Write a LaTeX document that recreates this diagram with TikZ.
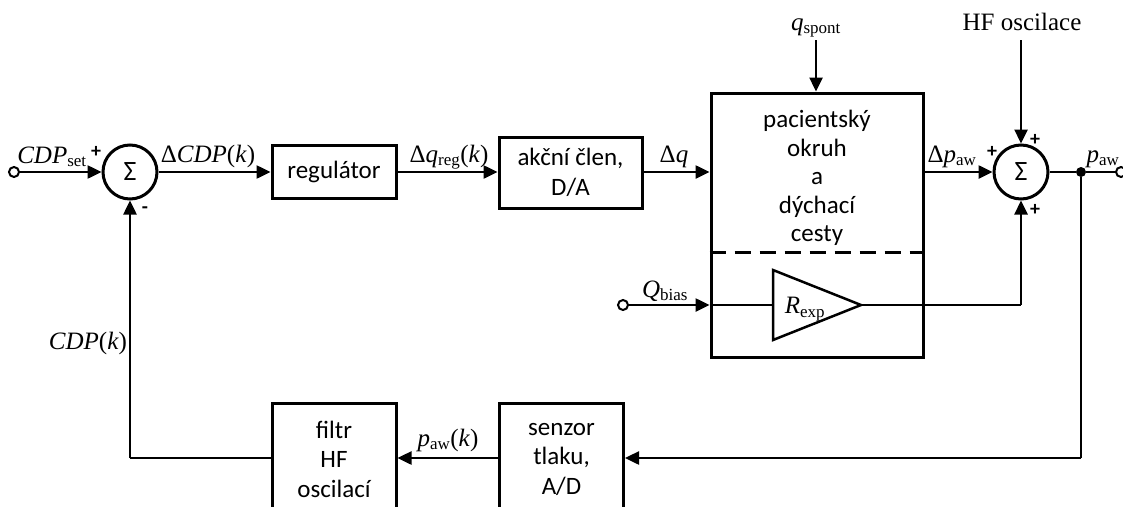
\documentclass[tikz,border=0pt]{standalone}
\usepackage{fontspec}
\setmainfont{Liberation Serif}
\newfontfamily\boxfont{Carlito}
\usetikzlibrary{arrows.meta,calc}
\begin{document}
\begin{tikzpicture}[x=1pt,y=-1pt,
  wire/.style={line width=2.5pt},
  arr/.style={line width=2.5pt,-{Triangle[length=14pt,width=13pt]}},
  blk/.style={draw,line width=3pt,font=\boxfont\fontsize{25}{29.5}\selectfont,align=center,inner sep=0pt},
  sumnode/.style={draw,circle,line width=3pt,minimum size=54pt,inner sep=0pt,font=\boxfont\fontsize{28}{28}\selectfont},
  lbl/.style={font=\fontsize{25}{25}\selectfont,inner sep=0pt},
  sgn/.style={font=\boxfont\fontsize{20}{20}\selectfont\bfseries,inner sep=0pt},
  term/.style={draw,circle,line width=2pt,fill=white,minimum size=10pt,inner sep=0pt},
  dot/.style={circle,fill=black,minimum size=10pt,inner sep=0pt}]
\newcommand{\sbs}[1]{\textsubscript{\fontsize{17}{17}\selectfont #1}}
\useasboundingbox (0,0) rectangle (1123,506);
\clip (0,0) rectangle (1123,506);
% nodes
\node[term] (in) at (14,172) {};
\node[sumnode] (s1) at (130,172) {Σ};
\node[blk,minimum width=124pt,minimum height=53pt] (reg) at (334,172) {regulátor};
\node[blk,minimum width=143pt,minimum height=71pt] (akc) at (570.5,172.5) {akční člen,\\D/A};
\node[draw,line width=3pt,minimum width=212pt,minimum height=264pt,inner sep=0pt] (pat) at (817,225) {};
\node[font=\boxfont\fontsize{25}{28.5}\selectfont,align=center,inner sep=0pt] (pattxt) at (817,178) {pacientský\\okruh\\a\\dýchací\\cesty};
\draw[line width=3pt,dash pattern=on 16pt off 9pt] (pat.west |- 0,252) coordinate (dl) -- (pat.east |- 0,252) coordinate (dr);
\coordinate (tA) at (773,270);
\coordinate (tB) at (861,305);
\coordinate (tC) at (773,340);
\draw[line width=2.5pt,line join=miter] (tA) -- (tB) -- (tC) -- cycle;
\node[lbl] (rexp) at (805,309) {\textit{R}\sbs{exp}};
\node[term] (qb) at (623,305) {};
\node[sumnode] (s2) at (1021,172) {Σ};
\node[dot] (j) at (1081,172) {};
\node[term] (out) at (1121,172) {};
\node[blk,minimum width=124pt,minimum height=112pt] (fil) at (334,459) {filtr\\HF\\oscilací};
\node[blk,minimum width=124pt,minimum height=112pt] (sen) at (561.5,459) {senzor\\tlaku,\\A/D};
\coordinate (qs) at (816,40);
\coordinate (hf) at (1021,40);
\coordinate (fbR) at (1081,458);
\coordinate (fbL) at (130,458);
\coordinate (rin) at (1021,305);
% connectors
\draw[arr] (in) -- (s1);
\draw[arr] (s1) -- (reg);
\draw[arr] (reg.east) -- (akc.west |- reg.east);
\draw[arr] (akc.east |- s1) -- (pat.west |- s1);
\draw[arr] (qs) -- (pat.north -| qs);
\draw[arr] (pat.east |- s2) -- (s2);
\draw[arr] (hf) -- (s2);
\draw[wire] (s2) -- (j) -- (out);
\draw[arr] (qb) -- (pat.west |- qb);
\draw[wire] (pat.west |- qb) -- (tA |- qb);
\draw[wire] (tB) -- (rin);
\draw[arr] (rin) -- (s2);
\draw[wire] (j) -- (fbR);
\draw[arr] (fbR) -- (sen.east |- fbR);
\draw[arr] (sen.west |- fbR) -- (fil.east |- fbR);
\draw[wire] (fil.west |- fbL) -- (fbL);
\draw[arr] (fbL) -- (s1);
% labels
\node[lbl,anchor=base] at (52,163) {\textit{CDP}\sbs{set}};
\node[sgn] at (96,152) {+};
\node[sgn] at (145,210) {-};
\node[lbl,anchor=base] at (208,162) {Δ\textit{CDP}(\textit{k})};
\node[lbl,anchor=base] at (449,162) {Δ\textit{q}\sbs{reg}(\textit{k})};
\node[lbl,anchor=base] at (674,162) {Δ\textit{q}};
\node[lbl,anchor=base] at (816,30) {\textit{q}\sbs{spont}};
\node[lbl,anchor=base] at (1022,30) {HF oscilace};
\node[lbl,anchor=base] at (952,162) {Δ\textit{p}\sbs{aw}};
\node[sgn] at (992,152) {+};
\node[sgn] at (1035,140) {+};
\node[sgn] at (1035,210) {+};
\node[lbl,anchor=base] at (1103,162) {\textit{p}\sbs{aw}};
\node[lbl,anchor=base] at (665,297) {\textit{Q}\sbs{bias}};
\node[lbl,anchor=base] at (88,349) {\textit{CDP}(\textit{k})};
\node[lbl,anchor=base] at (448,446) {\textit{p}\sbs{aw}(\textit{k})};
\end{tikzpicture}
\end{document}
